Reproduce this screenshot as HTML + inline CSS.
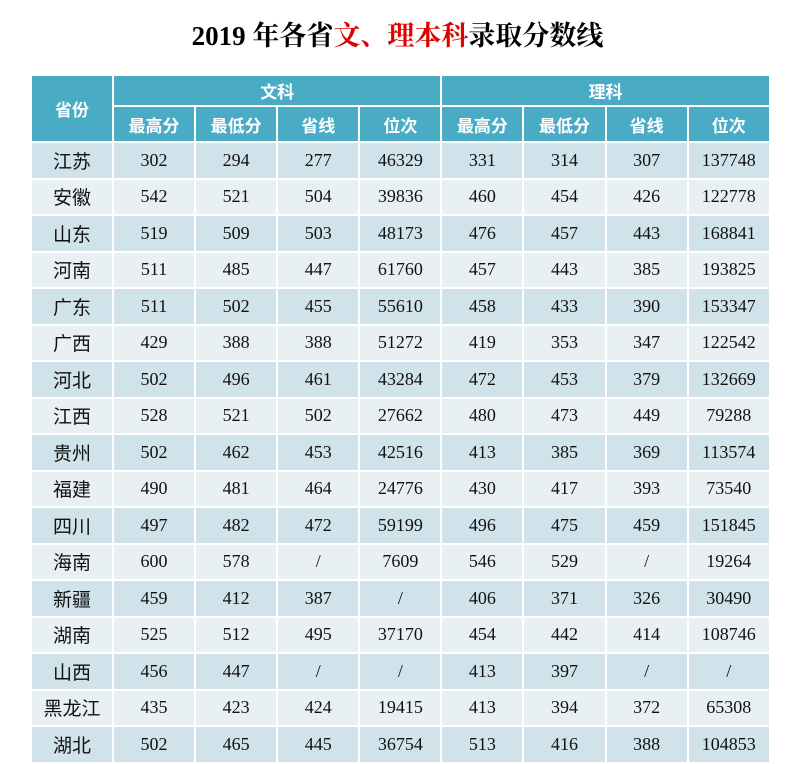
<!DOCTYPE html>
<html><head><meta charset="utf-8"><style>
body{margin:0;width:795px;height:763px;background:#fff;overflow:hidden;font-family:"Liberation Serif","Noto Serif CJK SC",serif;}
h1{position:absolute;left:0;top:14px;width:795px;margin:0;text-align:center;font-size:27px;font-weight:bold;color:#000;font-family:"Liberation Serif","Noto Serif CJK SC",serif;}
h1 span{color:#e00000}
table{position:absolute;left:30px;top:74px;width:739px;border-collapse:collapse;table-layout:fixed;}
td,th{border:2px solid #fff;text-align:center;padding:0;}
th{background:#4aabc5;color:#fff;font-family:"Liberation Sans","Noto Sans CJK SC",sans-serif;font-weight:bold;font-size:17px;}
tr.h1 th{height:29px}
tr.h2 th{height:34px}
td{height:34.5px;font-size:18px;color:#111;}
td:first-child{font-family:"Liberation Sans","Noto Sans CJK SC",sans-serif;font-size:19px}
tr.d:nth-child(odd) td{background:#d0e2ea}
tr.d:nth-child(even) td{background:#e8f0f3}
</style></head><body>
<h1>2019 年各省<span>文、理本科</span>录取分数线</h1>
<table>
<colgroup><col style="width:82px"><col span="8" style="width:82.1px"></colgroup>
<tr class="h1"><th rowspan="2">省份</th><th colspan="4">文科</th><th colspan="4">理科</th></tr>
<tr class="h2"><th>最高分</th><th>最低分</th><th>省线</th><th>位次</th><th>最高分</th><th>最低分</th><th>省线</th><th>位次</th></tr>
<tbody>
<tr class="d"><td>江苏</td><td>302</td><td>294</td><td>277</td><td>46329</td><td>331</td><td>314</td><td>307</td><td>137748</td></tr>
<tr class="d"><td>安徽</td><td>542</td><td>521</td><td>504</td><td>39836</td><td>460</td><td>454</td><td>426</td><td>122778</td></tr>
<tr class="d"><td>山东</td><td>519</td><td>509</td><td>503</td><td>48173</td><td>476</td><td>457</td><td>443</td><td>168841</td></tr>
<tr class="d"><td>河南</td><td>511</td><td>485</td><td>447</td><td>61760</td><td>457</td><td>443</td><td>385</td><td>193825</td></tr>
<tr class="d"><td>广东</td><td>511</td><td>502</td><td>455</td><td>55610</td><td>458</td><td>433</td><td>390</td><td>153347</td></tr>
<tr class="d"><td>广西</td><td>429</td><td>388</td><td>388</td><td>51272</td><td>419</td><td>353</td><td>347</td><td>122542</td></tr>
<tr class="d"><td>河北</td><td>502</td><td>496</td><td>461</td><td>43284</td><td>472</td><td>453</td><td>379</td><td>132669</td></tr>
<tr class="d"><td>江西</td><td>528</td><td>521</td><td>502</td><td>27662</td><td>480</td><td>473</td><td>449</td><td>79288</td></tr>
<tr class="d"><td>贵州</td><td>502</td><td>462</td><td>453</td><td>42516</td><td>413</td><td>385</td><td>369</td><td>113574</td></tr>
<tr class="d"><td>福建</td><td>490</td><td>481</td><td>464</td><td>24776</td><td>430</td><td>417</td><td>393</td><td>73540</td></tr>
<tr class="d"><td>四川</td><td>497</td><td>482</td><td>472</td><td>59199</td><td>496</td><td>475</td><td>459</td><td>151845</td></tr>
<tr class="d"><td>海南</td><td>600</td><td>578</td><td>/</td><td>7609</td><td>546</td><td>529</td><td>/</td><td>19264</td></tr>
<tr class="d"><td>新疆</td><td>459</td><td>412</td><td>387</td><td>/</td><td>406</td><td>371</td><td>326</td><td>30490</td></tr>
<tr class="d"><td>湖南</td><td>525</td><td>512</td><td>495</td><td>37170</td><td>454</td><td>442</td><td>414</td><td>108746</td></tr>
<tr class="d"><td>山西</td><td>456</td><td>447</td><td>/</td><td>/</td><td>413</td><td>397</td><td>/</td><td>/</td></tr>
<tr class="d"><td>黑龙江</td><td>435</td><td>423</td><td>424</td><td>19415</td><td>413</td><td>394</td><td>372</td><td>65308</td></tr>
<tr class="d"><td>湖北</td><td>502</td><td>465</td><td>445</td><td>36754</td><td>513</td><td>416</td><td>388</td><td>104853</td></tr>
</tbody>
</table>
</body></html>
